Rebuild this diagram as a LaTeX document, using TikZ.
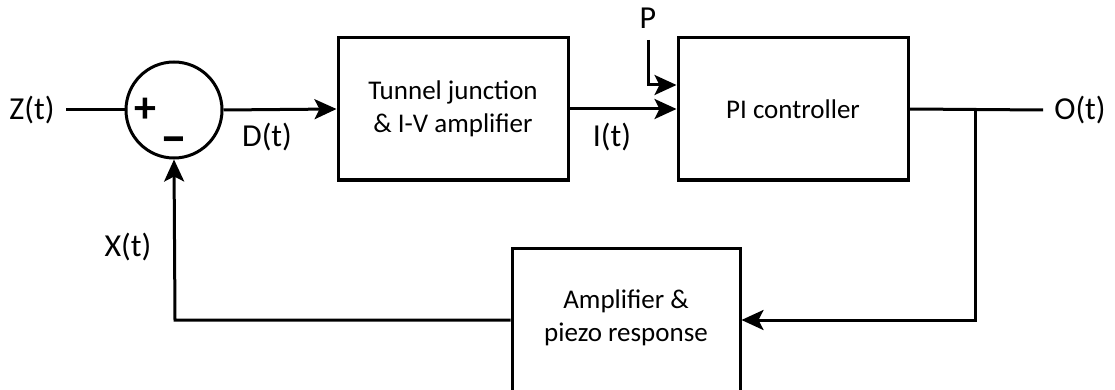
\documentclass[tikz,border=0pt]{standalone}
\usepackage{fontspec}
\setmainfont{Carlito}
\usetikzlibrary{arrows.meta}
\begin{document}
\begin{tikzpicture}[x=1pt,y=-1pt,
  line width=3pt,
  arr/.style={-{Stealth[length=22pt,width=20pt,inset=5pt]}},
  blk/.style={draw,line width=3pt,minimum width=230pt,minimum height=142pt,inner sep=0pt,align=center,font=\fontsize{27}{33}\selectfont},
  btxt/.style={inner sep=0pt,align=center,font=\fontsize{27}{33}\selectfont},
  lbl/.style={font=\fontsize{32}{36}\selectfont,inner sep=0pt},
  sgn/.style={font=\bfseries\fontsize{44}{48}\selectfont,inner sep=0pt}]
\useasboundingbox (0,0) rectangle (1115,390);
\node[draw,circle,minimum size=96pt,inner sep=0pt] (sum) at (174,110) {};
\node[sgn] (plus) at (145,110) {+};
\node[sgn,font=\bfseries\fontsize{54}{56}\selectfont] (minus) at (174,146) {–};
\node[lbl] (z) at (32,110) {Z(t)};
\node[blk] (b1) at (453,109) {Tunnel junction\\\& I-V amplifier};
\node[blk] (b2) at (793,109) {PI controller};
\node[draw,line width=3pt,minimum width=228pt,minimum height=150pt,inner sep=0pt] (b3) at (626,323) {};
\node[btxt] (b3t) at (626,318) {Amplifier \&\\piezo response};
\node[lbl] (o) at (1080,110) {O(t)};
\node[lbl] (p) at (648,18) {P};
\node[lbl] (d) at (267,137) {D(t)};
\node[lbl] (i) at (612,137) {I(t)};
\node[lbl] (x) at (128,247) {X(t)};
\coordinate (zs) at (66,110);
\coordinate (ps) at (648,40);
\coordinate (pc) at (648,85);
\coordinate (oe) at (1043,110);
\coordinate (br) at (975,110);
\coordinate (bc) at (975,320);
\coordinate (fc) at (175,320);
\draw (zs) -- (sum.west);
\draw[arr] (sum.east) -- (b1.west);
\draw[arr] (b1.east) -- (b2.west);
\draw[arr] (ps) -- (pc) -- (pc -| b2.west);
\draw (b2.east) -- (oe);
\draw[arr] (br) -- (bc) -- (bc -| b3.east);
\draw[arr] (b3.west |- fc) -- (fc) -- (sum.south);
\end{tikzpicture}
\end{document}
